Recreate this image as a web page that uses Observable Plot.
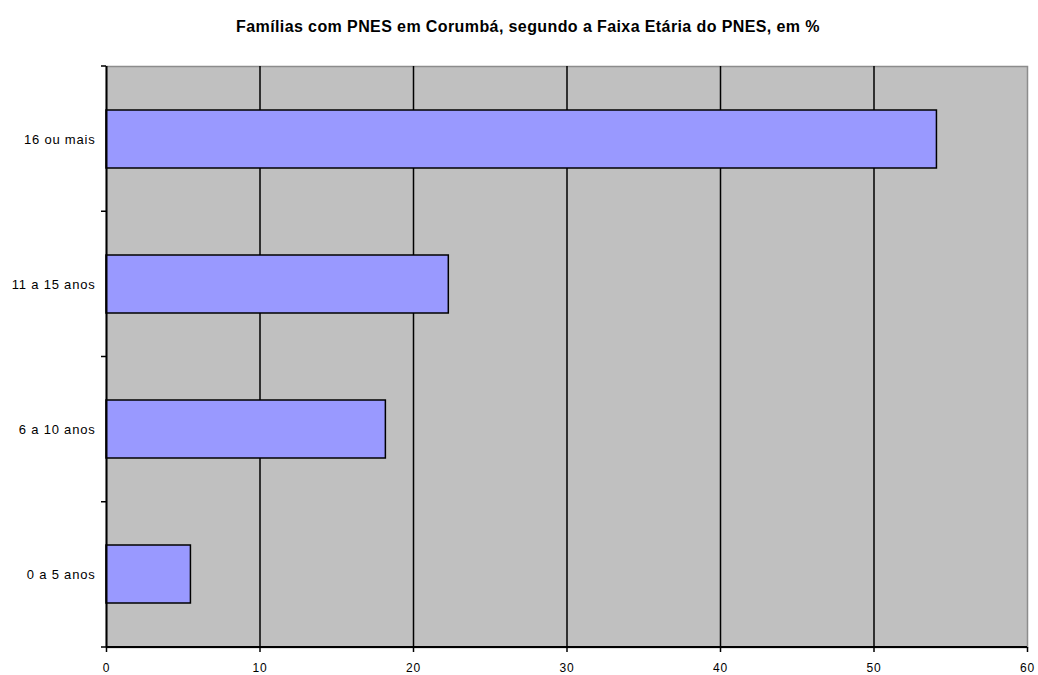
<!DOCTYPE html>
<html><head><meta charset="utf-8">
<script src="https://cdn.jsdelivr.net/npm/d3@7"></script>
<script src="https://cdn.jsdelivr.net/npm/@observablehq/plot@0.6"></script>
<style>
body{margin:0;background:#fff;font-family:"Liberation Sans",Arial,sans-serif;overflow:hidden;}
#title{height:50px;box-sizing:border-box;padding-top:18px;text-align:center;padding-left:18px;font-size:16px;font-weight:bold;color:#000;letter-spacing:0.4px;}
svg text{letter-spacing:0.8px;}
</style></head><body>
<div id="title">Famílias com PNES em Corumbá, segundo a Faixa Etária do PNES, em %</div>
<div id="chart"></div>
<script>
const categories = ["16 ou mais", "11 a 15 anos", "6 a 10 anos", "0 a 5 anos"];
const values = [54.1, 22.3, 18.2, 5.5];
const xTicks = [0, 10, 20, 30, 40, 50, 60];
const data = categories.map((c, i) => ({cat: c, value: values[i]}));

function boundaryTicks(index, scales, vals, dims) {
  const g = d3.create("svg:g");
  const y0 = dims.marginTop, y1 = dims.height - dims.marginBottom;
  const x0 = dims.marginLeft, x1 = dims.width - dims.marginRight;
  const n = scales.y.domain ? scales.y.domain().length : categories.length;
  const step = (y1 - y0) / n;
  for (let i = 0; i <= n; i++) {
    const y = y0 + i * step;
    g.append("line").attr("x1", x0 - 5).attr("x2", x0).attr("y1", y).attr("y2", y)
      .attr("stroke", "#000").attr("stroke-width", 1.5);
  }
  g.append("line").attr("x1", x0).attr("x2", x1).attr("y1", y1).attr("y2", y1)
    .attr("stroke", "#000").attr("stroke-width", 2);
  return g.node();
}

const chart = Plot.plot({
  width: 1038, height: 625,
  marginTop: 16, marginBottom: 28, marginLeft: 106, marginRight: 11,
  style: {fontFamily: "Liberation Sans, Arial, sans-serif", fontSize: "13px", color: "#000", background: "#fff"},
  x: {domain: [0, 60]},
  y: {domain: categories, paddingInner: 0.6, paddingOuter: 0.3},
  marks: [
    Plot.frame({fill: "#C0C0C0", stroke: "#8c8c8c", strokeWidth: 1.5}),
    Plot.gridX({ticks: xTicks.slice(1, -1), stroke: "#000", strokeOpacity: 1, strokeWidth: 1.5}),
    Plot.barX(data, {y: "cat", x: "value", fill: "#9999FF", stroke: "#000", strokeWidth: 1.5}),
    Plot.ruleX([0], {stroke: "#000", strokeWidth: 2}),
    boundaryTicks,
    Plot.axisX({ticks: xTicks, tickSize: 5, tickPadding: 11, label: null, stroke: "#000", strokeWidth: 1.5, fontSize: 12}),
    Plot.axisY({tickSize: 0, tickPadding: 11, label: null})
  ]
});
document.getElementById("chart").appendChild(chart);
</script>
</body></html>
